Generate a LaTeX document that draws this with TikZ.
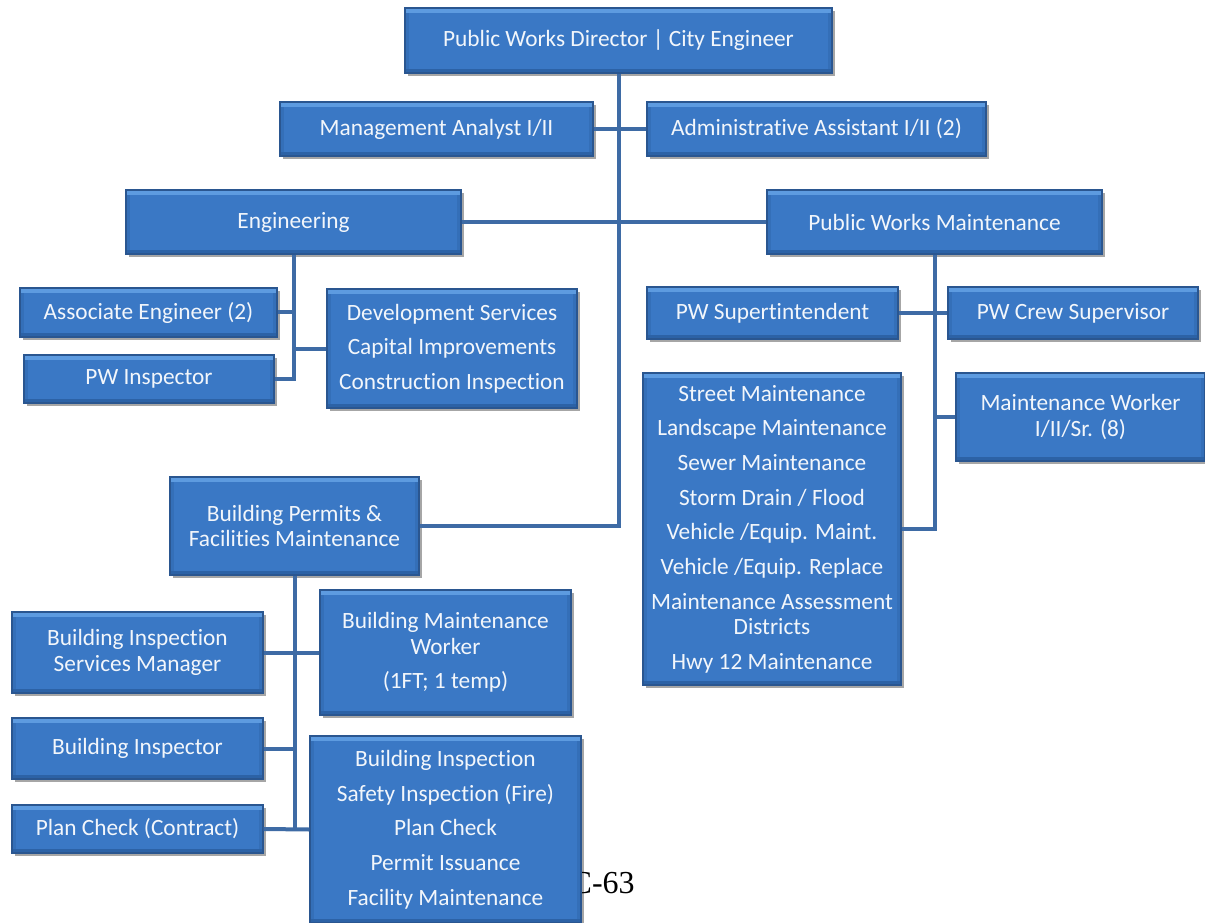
\documentclass[tikz,border=0pt]{standalone}
\usepackage{fontspec}
\setmainfont{Carlito}[RawFeature=-liga]
\newfontfamily\pagefont{Liberation Serif}
\usetikzlibrary{shadows}
\definecolor{boxblue}{HTML}{3A78C5}
\definecolor{boxtop}{HTML}{5D9BE0}
\definecolor{boxbot}{HTML}{2C62A6}
\definecolor{boxside}{HTML}{346FB8}
\definecolor{boxedge}{HTML}{2A5690}
\definecolor{linkblue}{HTML}{3E6BA5}
\definecolor{posttext}{HTML}{F2F6FB}

\begin{document}
\begin{tikzpicture}[x=0.75pt, y=-0.75pt]
        \tikzstyle{post}=[draw=boxedge, line width=0.8pt, fill=boxblue, text=posttext, align=center, inner sep=0pt, font=\fontsize{17.5}{19}\selectfont,
            drop shadow={shadow xshift=2pt, shadow yshift=-2.5pt, fill=black, opacity=0.35},
            path picture={
                \fill[boxside] (path picture bounding box.north west) rectangle ([xshift=3pt]path picture bounding box.south west);
                \fill[boxside] ([xshift=-3pt]path picture bounding box.north east) rectangle (path picture bounding box.south east);
                \fill[boxtop] (path picture bounding box.north west) rectangle ([yshift=-3.5pt]path picture bounding box.north east);
                \fill[boxbot] ([yshift=3pt]path picture bounding box.south west) rectangle (path picture bounding box.south east);
            }]
        \tikzstyle{link}=[draw=linkblue, line width=3pt]

        \useasboundingbox (0,0) rectangle (1205,923);

        \node[post, minimum width=320.25pt, minimum height=48.75pt](dir) at (618.5,40.5){Public Works Director | City Engineer};
        \node[post, minimum width=234.75pt, minimum height=40.5pt](ma) at (436.5,129){Management Analyst I/II};
        \node[post, minimum width=254.25pt, minimum height=40.5pt](aa) at (816.5,129){Administrative Assistant I/II (2)};
        \node[post, minimum width=251.25pt, minimum height=48pt](eng) at (293.5,222){Engineering};
        \node[post, minimum width=251.25pt, minimum height=48pt](pwm) at (934.5,222){Public Works Maintenance};

        \node[post, minimum width=192.75pt, minimum height=36.75pt](ae) at (148.5,312.5){Associate Engineer (2)};
        \node[post, minimum width=187.5pt, minimum height=36pt](pwi) at (149,379){PW Inspector};
        \node[post, minimum width=187.5pt, minimum height=89.25pt](dev) at (452,348.5){Development Services\\[7pt]Capital Improvements\\[7pt]Construction Inspection};

        \node[post, minimum width=188.25pt, minimum height=39pt](sup) at (772.5,313){PW Supertintendent};
        \node[post, minimum width=187.5pt, minimum height=39pt](crew) at (1073,313){PW Crew Supervisor};
        \node[post, minimum width=193.5pt, minimum height=234pt](st) at (772,529){Street Maintenance\\[7pt]Landscape Maintenance\\[7pt]Sewer Maintenance\\[7pt]Storm Drain / Flood\\[7pt]Vehicle /Equip. Maint.\\[7pt]Vehicle /Equip. Replace\\[7pt]Maintenance Assessment\\Districts\\[7pt]Hwy 12 Maintenance};
        \node[post, minimum width=186.75pt, minimum height=66pt](mw) at (1080.5,417){Maintenance Worker\\I/II/Sr. (8)};

        \node[post, minimum width=186.75pt, minimum height=73.5pt](bp) at (294.5,526){Building Permits \&\\Facilities Maintenance};
        \node[post, minimum width=188.25pt, minimum height=60.75pt](bism) at (137.5,652.5){Building Inspection\\Services Manager};
        \node[post, minimum width=188.25pt, minimum height=93.75pt](bmw) at (445.5,652.5){Building Maintenance\\Worker\\[7pt](1FT; 1 temp)};
        \node[post, minimum width=188.25pt, minimum height=45.75pt](bi) at (137.5,748.5){Building Inspector};
        \node[post, minimum width=188.25pt, minimum height=36pt](pc) at (137.5,829){Plan Check (Contract)};

        \node[anchor=base east, inner sep=0pt, font=\pagefont\fontsize{24}{24}\selectfont](pagenum) at (635,893){C-63};
        \node[post, minimum width=203.25pt, minimum height=140.25pt](bil) at (445.5,829.5){Building Inspection\\[7pt]Safety Inspection (Fire)\\[7pt]Plan Check\\[7pt]Permit Issuance\\[7pt]Facility Maintenance};

        \draw[link] (dir.south) |- (bp.east);
        \draw[link] (ma.east) -- (aa.west);
        \draw[link] (eng.east) -- (pwm.west);

        \draw[link] (eng.south) |- (pwi.east);
        \draw[link] (ae.east) -- (ae.east -| eng.south);
        \draw[link] (eng.south |- dev.west) -- (dev.west);

        \draw[link] (pwm.south) |- (st.east);
        \draw[link] (sup.east) -- (crew.west);
        \draw[link] (pwm.south |- mw.west) -- (mw.west);

        \draw[link] (bp.south) -- (bp.south |- pc.east);
        \draw[link] (bism.east) -- (bmw.west);
        \draw[link] (bi.east) -- (bi.east -| bp.south);
        \draw[link] (pc.east) -- (bil.west);

\end{tikzpicture}
\end{document}
